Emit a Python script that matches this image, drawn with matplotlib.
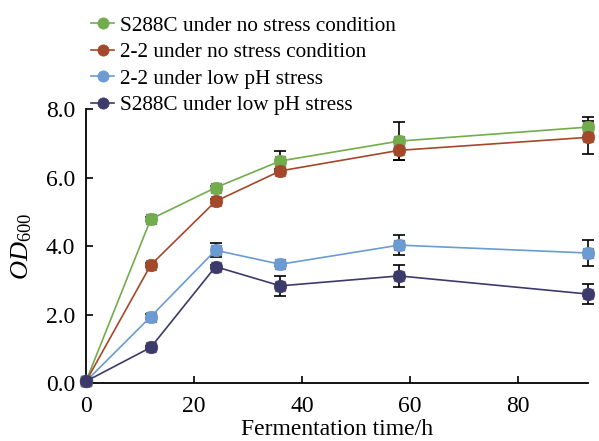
import matplotlib
matplotlib.use("Agg")
import matplotlib.pyplot as plt

plt.rcParams['font.family'] = ['Liberation Serif', 'DejaVu Serif']
plt.rcParams['mathtext.fontset'] = 'custom'
plt.rcParams['mathtext.rm'] = 'Liberation Serif'
plt.rcParams['mathtext.it'] = 'Liberation Serif:italic'

time_h = [0, 12, 24, 36, 58, 93]

labels = ["S288C under no stress condition",
          "2-2 under no stress condition",
          "2-2 under low pH stress",
          "S288C under low pH stress"]
colors = ["#72ac4d", "#a4482a", "#6b9bd2", "#3c3a6b"]

s288c_no_stress = [0.05, 4.79, 5.71, 6.49, 7.07, 7.48]
s288c_no_stress_err = [0.03, 0.06, 0.06, 0.29, 0.55, 0.29]
x22_no_stress = [0.05, 3.45, 5.31, 6.20, 6.80, 7.18]
x22_no_stress_err = [0.03, 0.06, 0.06, 0.06, 0.27, 0.48]
x22_low_ph = [0.05, 1.94, 3.88, 3.47, 4.03, 3.80]
x22_low_ph_err = [0.03, 0.08, 0.20, 0.05, 0.30, 0.37]
s288c_low_ph = [0.05, 1.04, 3.40, 2.84, 3.13, 2.60]
s288c_low_ph_err = [0.03, 0.05, 0.05, 0.30, 0.33, 0.30]

series = [(s288c_no_stress, s288c_no_stress_err),
          (x22_no_stress, x22_no_stress_err),
          (x22_low_ph, x22_low_ph_err),
          (s288c_low_ph, s288c_low_ph_err)]

fig = plt.figure(figsize=(5.99, 4.41), dpi=100)
ax = fig.add_axes([86/599, 1-383/441, (588-86)/599, (383-109.3)/441])

handles = []
for (vals, errs), c, lab in zip(series, colors, labels):
    ax.errorbar(time_h, vals, yerr=errs, fmt='none', ecolor='black',
                elinewidth=1.2, capsize=4, capthick=1.2, zorder=2, clip_on=False)
    ax.plot(time_h, vals, linestyle='none', marker='s', markersize=7,
            markerfacecolor='#808080', markeredgecolor='#808080',
            zorder=3, clip_on=False)
    h, = ax.plot(time_h, vals, color=c, lw=1.2, marker='o', markersize=9,
                 markeredgecolor=c, markeredgewidth=0.5,
                 label=lab, zorder=4, clip_on=False)
    handles.append(h)

ax.set_xlim(0, 93)
ax.set_ylim(0, 8)
ax.set_xticks([0, 20, 40, 60, 80])
ax.set_yticks([0, 2, 4, 6, 8])
ax.set_yticklabels(["0.0", "2.0", "4.0", "6.0", "8.0"])
ax.tick_params(direction='in', length=5, width=1.2, labelsize=17)
ax.tick_params(axis='y', pad=8)
ax.tick_params(axis='x', pad=9)
for s in ['top', 'right']:
    ax.spines[s].set_visible(False)
for s in ['left', 'bottom']:
    ax.spines[s].set_linewidth(1.3)

ax.set_xlabel("Fermentation time/h", fontsize=17, labelpad=2)
ax.set_ylabel(r"$\mathit{OD}_{600}$", fontsize=19, labelpad=8)

fig.legend(handles=handles, labels=labels, loc='upper left',
           bbox_to_anchor=(91/599, 1-16/441), frameon=False, fontsize=15.3,
           handlelength=1.1, handletextpad=0.25, labelspacing=0.31,
           borderaxespad=0, borderpad=0, markerscale=0.9)

fig.savefig("out.png", dpi=100)
